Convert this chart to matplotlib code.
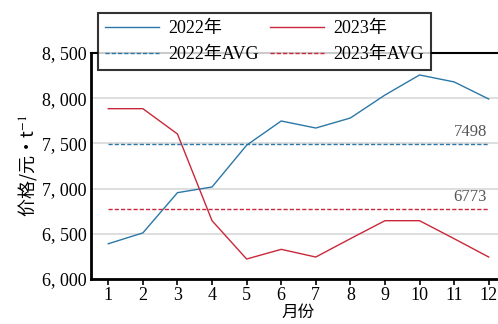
import matplotlib
matplotlib.use("Agg")
import matplotlib.pyplot as plt

months = [1, 2, 3, 4, 5, 6, 7, 8, 9, 10, 11, 12]
price_2022 = [6390, 6510, 6955, 7018, 7480, 7748, 7670, 7781, 8035, 8257, 8180, 7991]
price_2023 = [7884, 7884, 7604, 6645, 6221, 6328, 6243, 6446, 6645, 6645, 6446, 6243]
avg_2022 = 7498
avg_2023 = 6773
yticks = [6000, 6500, 7000, 7500, 8000, 8500]
ytick_labels = ["6, 000", "6, 500", "7, 000", "7, 500", "8, 000", "8, 500"]

cjk = ["Noto Sans CJK SC", "DejaVu Sans"]
plt.rcParams["font.family"] = ["Liberation Serif", "Noto Sans CJK SC", "DejaVu Sans"]
plt.rcParams["mathtext.fontset"] = "stix"

c22 = "#2b78a8"
c23 = "#c9283a"

fig = plt.figure(figsize=(4.98, 3.24), dpi=100)
ax = fig.add_axes([91/498, 45/324, (506-91)/498, (279-53)/324])

ax.plot(months, price_2022, color=c22, lw=1.0, label="2022年")
ax.plot(months, price_2023, color=c23, lw=1.0, label="2023年")
ax.plot([months[0], months[-1]], [avg_2022, avg_2022], color=c22, lw=1.0, ls=(0, (3, 1.5)), label="2022年AVG")
ax.plot([months[0], months[-1]], [avg_2023, avg_2023], color=c23, lw=1.0, ls=(0, (3, 1.5)), label="2023年AVG")

ax.text(months[-1] - 0.05, avg_2022 + 45, str(avg_2022), ha="right", va="bottom", fontsize=12, color="#555555")
ax.text(months[-1] - 0.05, avg_2023 + 45, str(avg_2023), ha="right", va="bottom", fontsize=12, color="#555555")

ax.set_xlim(0.5, 12.5)
ax.set_ylim(6000, 8500)
ax.set_xticks(months)
ax.set_xticklabels([str(m) for m in months], fontsize=13)
ax.set_yticks(yticks)
ax.set_yticklabels(ytick_labels, fontsize=13)
ax.yaxis.grid(True, color="#d8d8d8", lw=1.2)
ax.set_axisbelow(True)
ax.tick_params(axis="y", length=0, pad=3)
ax.tick_params(axis="x", direction="out", length=4, width=1.2, color="black", pad=2)

for s in ["left", "bottom"]:
    ax.spines[s].set_linewidth(2)
    ax.spines[s].set_color("black")
ax.spines["top"].set_linewidth(1.5)
ax.spines["right"].set_visible(False)

ax.set_xlabel("月份", fontsize=12, family=cjk, labelpad=0)
ax.set_ylabel("价格/元·t$^{-1}$", fontsize=13, family=cjk, labelpad=2)

h, l = ax.get_legend_handles_labels()
order = [0, 2, 1, 3]
leg = ax.legend([h[i] for i in order], [l[i] for i in order], ncol=2, loc="upper left",
                bbox_to_anchor=(98/498, 1 - 13/324), bbox_transform=fig.transFigure,
                frameon=True, fancybox=False, edgecolor="black", fontsize=13,
                handlelength=3.0, handletextpad=0.5, columnspacing=0.6,
                borderpad=0.4, labelspacing=0.5, borderaxespad=0)
leg.get_frame().set_linewidth(1.5)
leg.set_zorder(5)

fig.savefig("out.png", dpi=100)
